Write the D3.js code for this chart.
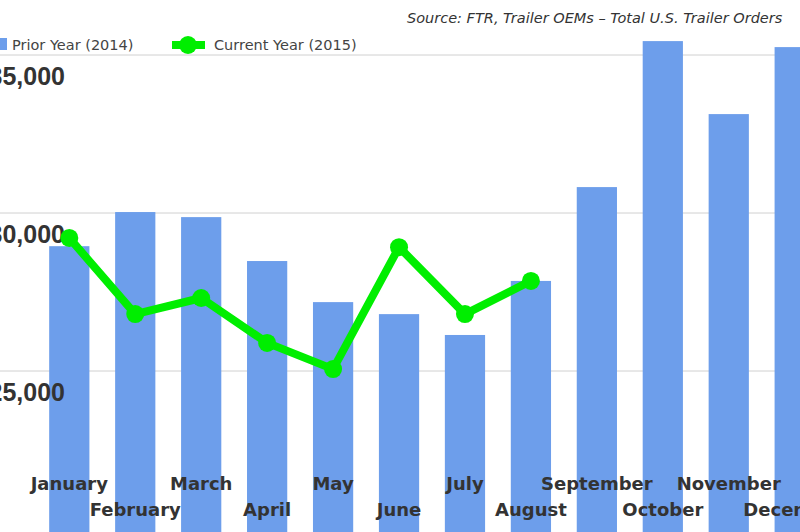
<!DOCTYPE html>
<html><head><meta charset="utf-8">
<script src="https://cdn.jsdelivr.net/npm/d3@7"></script>
<style>body{margin:0;background:#fff}svg{display:block;font-family:"Liberation Sans",Arial,sans-serif}</style>
</head><body><svg id="c" width="800" height="532"></svg>
<script>
const months = ["January","February","March","April","May","June","July","August","September","October","November","December"];
const prior2014 = [28950,30030,29870,28480,27180,26800,26140,27850,30820,35440,33130,35250];
const current2015 = [29210,26800,27310,25890,25060,28920,26800,27850];
const yTicks = [25000,30000,35000];

const svg = d3.select('#c');
const x = d3.scaleBand().domain(months).range([36, 828]).paddingInner(0.39).paddingOuter(0.2);
const y = d3.scaleLinear().domain([20000, 36000]).range([529, 23.4]);

svg.append('g').selectAll('line').data(yTicks).join('line')
  .attr('x1', 0).attr('x2', 800).attr('y1', d => y(d)).attr('y2', d => y(d))
  .attr('stroke', '#d0d0d0').attr('stroke-width', 1);

svg.append('g').selectAll('rect').data(prior2014).join('rect')
  .attr('x', (d, i) => x(months[i])).attr('width', x.bandwidth())
  .attr('y', d => y(d)).attr('height', d => 540 - y(d))
  .attr('fill', '#6d9eeb');

svg.append('g').selectAll('text').data(yTicks).join('text')
  .attr('x', 65).attr('y', d => y(d) + 30).attr('text-anchor', 'end')
  .attr('font-size', 25).attr('font-weight', 'bold').attr('fill', '#333')
  .text(d => d3.format(',')(d));

const line = d3.line().x((d, i) => x(months[i]) + x.bandwidth() / 2).y(d => y(d));
svg.append('path').datum(current2015).attr('d', line)
  .attr('fill', 'none').attr('stroke', '#00ee00').attr('stroke-width', 8).attr('stroke-linejoin', 'round');
svg.append('g').selectAll('circle').data(current2015).join('circle')
  .attr('cx', (d, i) => x(months[i]) + x.bandwidth() / 2).attr('cy', d => y(d))
  .attr('r', 9).attr('fill', '#00ee00');

svg.append('g').selectAll('text').data(months).join('text')
  .attr('x', d => x(d) + x.bandwidth() / 2).attr('y', (d, i) => i % 2 ? 516 : 490)
  .attr('text-anchor', 'middle').attr('font-family', '"DejaVu Sans",sans-serif')
  .attr('font-size', 18).attr('font-weight', 'bold').attr('fill', '#333')
  .text(d => d);

// legend
svg.append('rect').attr('x', -3).attr('y', 38).attr('width', 10).attr('height', 12).attr('fill', '#6d9eeb');
svg.append('text').attr('x', 12).attr('y', 50).attr('font-family', '"DejaVu Sans",sans-serif')
  .attr('font-size', 14.5).attr('fill', '#444').text('Prior Year (2014)');
svg.append('line').attr('x1', 172).attr('x2', 205).attr('y1', 45).attr('y2', 45).attr('stroke', '#00ee00').attr('stroke-width', 8);
svg.append('circle').attr('cx', 188).attr('cy', 45).attr('r', 9).attr('fill', '#00ee00');
svg.append('text').attr('x', 214).attr('y', 50).attr('font-family', '"DejaVu Sans",sans-serif')
  .attr('font-size', 14.5).attr('fill', '#444').text('Current Year (2015)');

svg.append('text').attr('x', 407).attr('y', 23).attr('font-family', '"DejaVu Sans",sans-serif')
  .attr('font-size', 14.5).attr('font-style', 'italic').attr('fill', '#333')
  .text('Source: FTR, Trailer OEMs \u2013 Total U.S. Trailer Orders');
</script></body></html>
